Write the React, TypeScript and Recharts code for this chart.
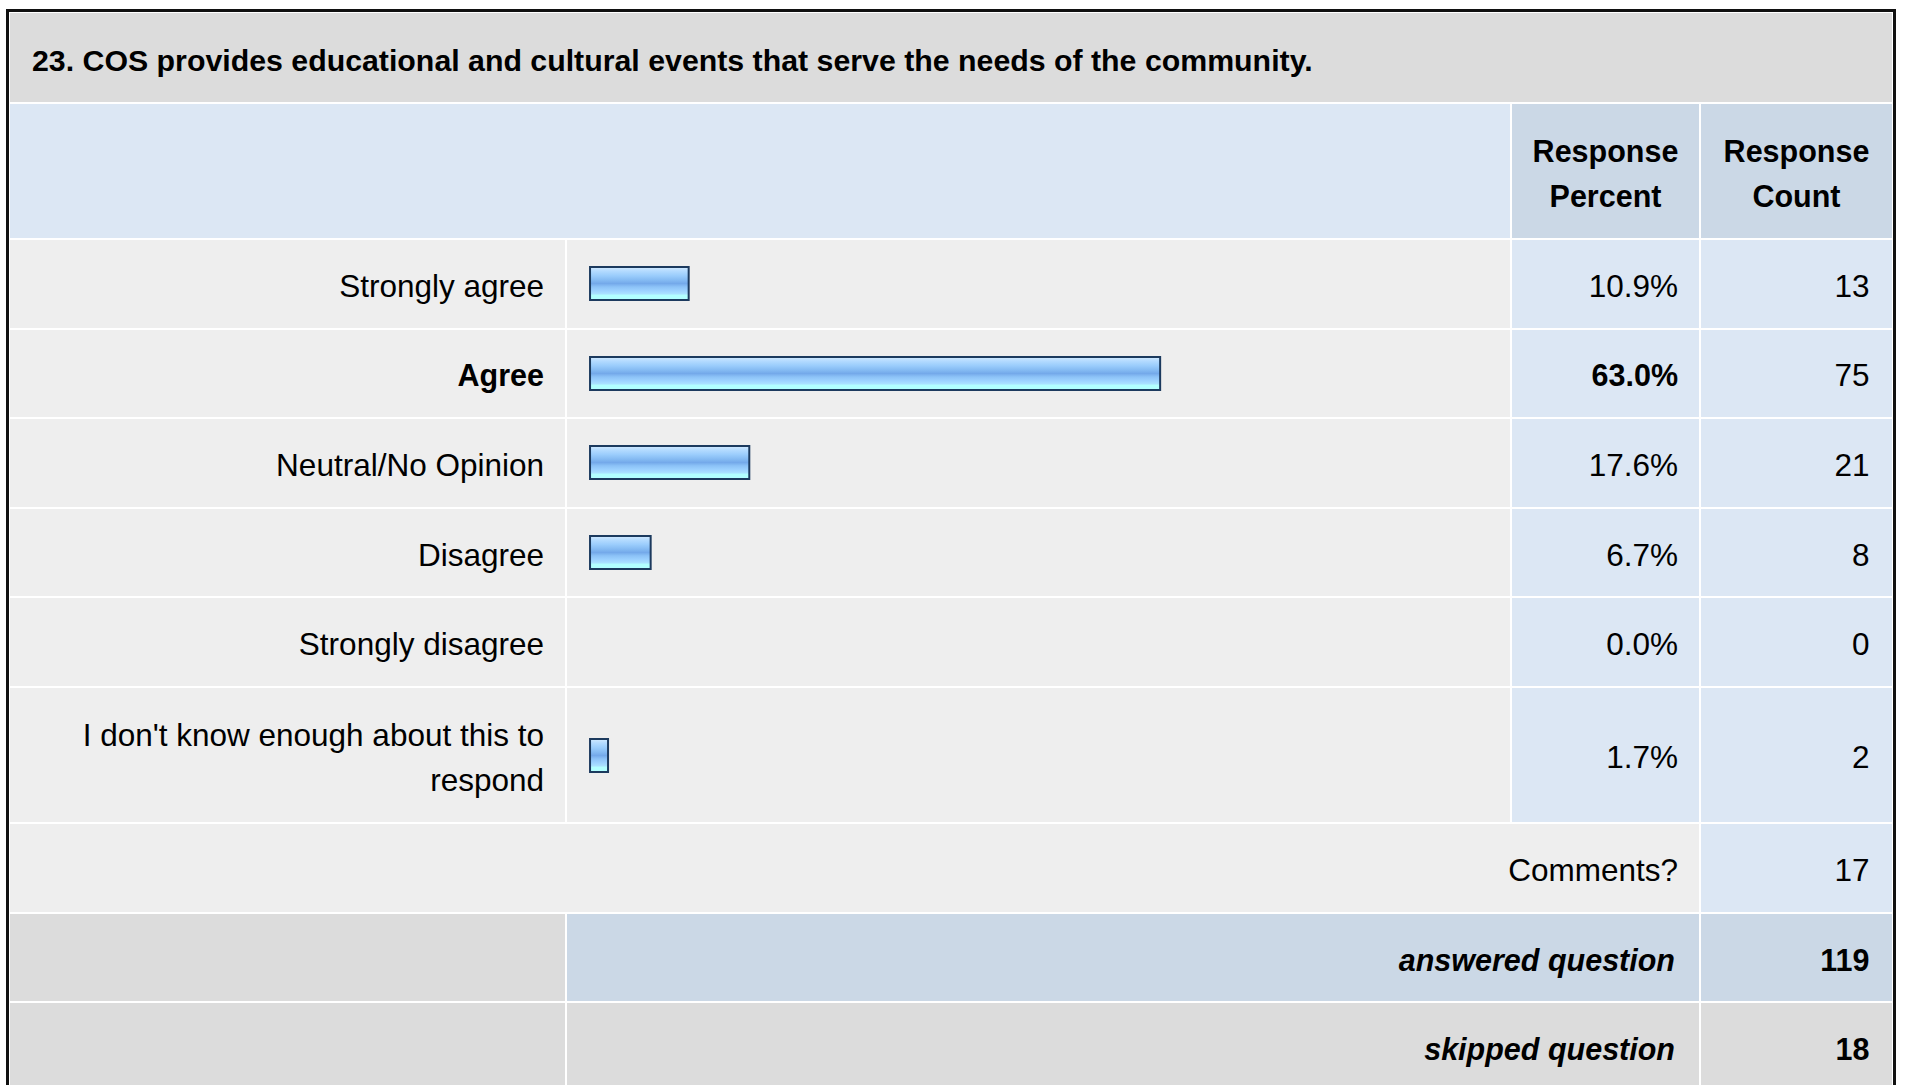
import React from 'react';
import { BarChart, Bar, XAxis, YAxis } from 'recharts';

// ---- data ----
const questionTitle = '23. COS provides educational and cultural events that serve the needs of the community.';
const categories = [
  'Strongly agree',
  'Agree',
  'Neutral/No Opinion',
  'Disagree',
  'Strongly disagree',
  "I don't know enough about this to respond",
];
const percents = [10.9, 63.0, 17.6, 6.7, 0.0, 1.7];
const percentLabels = ['10.9%', '63.0%', '17.6%', '6.7%', '0.0%', '1.7%'];
const counts = [13, 75, 21, 8, 0, 2];
const commentsLabel = 'Comments?';
const commentsCount = 17;
const answeredLabel = 'answered question';
const answeredCount = 119;
const skippedLabel = 'skipped question';
const skippedCount = 18;

// ---- styles / layout ----
const FONT = '"Liberation Sans", Arial, Helvetica, sans-serif';
const REG = 31.5;
const BOLD = 30.5;
const C_TITLE = '#dcdcdc';
const C_HEAD = '#dce7f4';
const C_HEAD_DARK = '#cbd8e6';
const C_ROW = '#eeeeee';
const C_GRAY = '#dcdcdc';

const X0 = 10;
const X_LABEL_END = 565;
const X_BAR = 567;
const X_BAR_END = 1510;
const X_PCT = 1512;
const X_PCT_END = 1699;
const X_CNT = 1701;
const X_END = 1892;
const GAP = 2;

const TITLE_TOP = 13;
const TITLE_H = 89;
const HEAD_H = 134;
const ROW_H = 87.6;
const ROW_H_TALL = 134.2;

type CellProps = {
  x0: number;
  x1: number;
  top: number;
  h: number;
  bg: string;
  align?: 'left' | 'right' | 'center';
  pad?: number;
  children?: React.ReactNode;
  style?: React.CSSProperties;
};

const Cell = ({ x0, x1, top, h, bg, align = 'right', pad = 21, children, style }: CellProps) => (
  <div
    style={{
      position: 'absolute',
      left: x0,
      top,
      width: x1 - x0,
      height: h,
      background: bg,
      display: 'flex',
      alignItems: 'center',
      justifyContent: align === 'right' ? 'flex-end' : align === 'left' ? 'flex-start' : 'center',
      paddingRight: align === 'right' ? pad : 0,
      paddingLeft: align === 'left' ? pad : 0,
      paddingTop: 5,
      boxSizing: 'border-box',
      textAlign: align,
      color: '#000',
      fontFamily: FONT,
      fontSize: REG,
      lineHeight: '45px',
      ...style,
    }}
  >
    {children}
  </div>
);

const RowBar = ({ name, value, h, idx }: { name: string; value: number; h: number; idx: number }) => {
  const gid = `barGrad${idx}`;
  return (
    <BarChart
      width={X_BAR_END - X_BAR}
      height={h}
      layout="vertical"
      data={[{ name, value }]}
      margin={{ top: 0, right: 15, bottom: 0, left: 23 }}
    >
      <defs>
        <linearGradient id={gid} x1="0" y1="0" x2="0" y2="1">
          <stop offset="0%" stopColor="#d2eaff" />
          <stop offset="12%" stopColor="#b4dbff" />
          <stop offset="26%" stopColor="#9bcdfc" />
          <stop offset="40%" stopColor="#84baf2" />
          <stop offset="50%" stopColor="#74a9ea" />
          <stop offset="60%" stopColor="#8cc2f7" />
          <stop offset="72%" stopColor="#9dd2ff" />
          <stop offset="82%" stopColor="#abe2ff" />
          <stop offset="85%" stopColor="#b2ffff" />
          <stop offset="100%" stopColor="#b2ffff" />
        </linearGradient>
      </defs>
      <XAxis type="number" domain={[0, 100]} hide />
      <YAxis type="category" dataKey="name" hide />
      <Bar
        dataKey="value"
        fill={`url(#${gid})`}
        stroke="#1c3a5e"
        strokeWidth={2}
        barSize={33}
        minPointSize={(v: number) => (v > 0 ? 18 : 0)}
        isAnimationActive={false}
      />
    </BarChart>
  );
};

export default function App() {
  const maxPct = Math.max(...percents);
  const rowHeights = categories.map((c) => (c.length > 30 ? ROW_H_TALL : ROW_H));
  const rowTops: number[] = [];
  let y = TITLE_TOP + TITLE_H + GAP + HEAD_H + GAP;
  rowHeights.forEach((h) => {
    rowTops.push(y);
    y += h + GAP;
  });
  const commentsTop = y;
  const answeredTop = commentsTop + ROW_H + GAP;
  const skippedTop = answeredTop + ROW_H + GAP;
  const headTop = TITLE_TOP + TITLE_H + GAP;

  return (
    <div
      style={{
        position: 'absolute',
        left: 0,
        top: 0,
        width: 1907,
        height: 1085,
        overflow: 'hidden',
        background: '#ffffff',
      }}
    >
      {/* outer frame */}
      <div
        style={{
          position: 'absolute',
          left: 6,
          top: 9,
          width: 1896 - 6,
          height: 1200,
          border: '3px solid #111',
          boxSizing: 'border-box',
          background: '#ffffff',
        }}
      />
      {/* title */}
      <Cell x0={X0} x1={X_END} top={TITLE_TOP} h={TITLE_H} bg={C_TITLE} align="left" pad={22}
        style={{ fontWeight: 'bold', fontSize: 30.3 }}>
        {questionTitle}
      </Cell>
      {/* header */}
      <Cell x0={X0} x1={X_BAR_END} top={headTop} h={HEAD_H} bg={C_HEAD} />
      <Cell x0={X_PCT} x1={X_PCT_END} top={headTop} h={HEAD_H} bg={C_HEAD_DARK} align="center"
        style={{ fontWeight: 'bold', fontSize: BOLD }}>
        <div>Response<br />Percent</div>
      </Cell>
      <Cell x0={X_CNT} x1={X_END} top={headTop} h={HEAD_H} bg={C_HEAD_DARK} align="center"
        style={{ fontWeight: 'bold', fontSize: BOLD }}>
        <div>Response<br />Count</div>
      </Cell>

      {/* answer rows */}
      {categories.map((cat, i) => {
        const top = rowTops[i];
        const h = rowHeights[i];
        const isMax = percents[i] === maxPct;
        const strong: React.CSSProperties = isMax ? { fontWeight: 'bold', fontSize: BOLD } : {};
        return (
          <React.Fragment key={cat}>
            <Cell x0={X0} x1={X_LABEL_END} top={top} h={h} bg={C_ROW} style={strong}>
              <div style={{ maxWidth: 500 }}>{cat}</div>
            </Cell>
            <div
              style={{
                position: 'absolute',
                left: X_BAR,
                top,
                width: X_BAR_END - X_BAR,
                height: h,
                background: C_ROW,
              }}
            >
              <RowBar name={cat} value={percents[i]} h={h} idx={i} />
            </div>
            <Cell x0={X_PCT} x1={X_PCT_END} top={top} h={h} bg={C_HEAD} style={strong}>
              {percentLabels[i]}
            </Cell>
            <Cell x0={X_CNT} x1={X_END} top={top} h={h} bg={C_HEAD} pad={22.5}>
              {counts[i]}
            </Cell>
          </React.Fragment>
        );
      })}

      {/* comments */}
      <Cell x0={X0} x1={X_PCT_END} top={commentsTop} h={ROW_H} bg={C_ROW}>
        {commentsLabel}
      </Cell>
      <Cell x0={X_CNT} x1={X_END} top={commentsTop} h={ROW_H} bg={C_HEAD} pad={22.5}>
        {commentsCount}
      </Cell>

      {/* answered */}
      <Cell x0={X0} x1={X_LABEL_END} top={answeredTop} h={ROW_H} bg={C_GRAY} />
      <Cell x0={X_BAR} x1={X_PCT_END} top={answeredTop} h={ROW_H} bg={C_HEAD_DARK} pad={24}
        style={{ fontWeight: 'bold', fontStyle: 'italic', fontSize: BOLD }}>
        {answeredLabel}
      </Cell>
      <Cell x0={X_CNT} x1={X_END} top={answeredTop} h={ROW_H} bg={C_HEAD_DARK} pad={22.5}
        style={{ fontWeight: 'bold', fontSize: BOLD }}>
        {answeredCount}
      </Cell>

      {/* skipped */}
      <Cell x0={X0} x1={X_LABEL_END} top={skippedTop} h={ROW_H} bg={C_GRAY} />
      <Cell x0={X_BAR} x1={X_PCT_END} top={skippedTop} h={ROW_H} bg={C_GRAY} pad={24}
        style={{ fontWeight: 'bold', fontStyle: 'italic', fontSize: BOLD }}>
        {skippedLabel}
      </Cell>
      <Cell x0={X_CNT} x1={X_END} top={skippedTop} h={ROW_H} bg={C_GRAY} pad={22.5}
        style={{ fontWeight: 'bold', fontSize: BOLD }}>
        {skippedCount}
      </Cell>
    </div>
  );
}
